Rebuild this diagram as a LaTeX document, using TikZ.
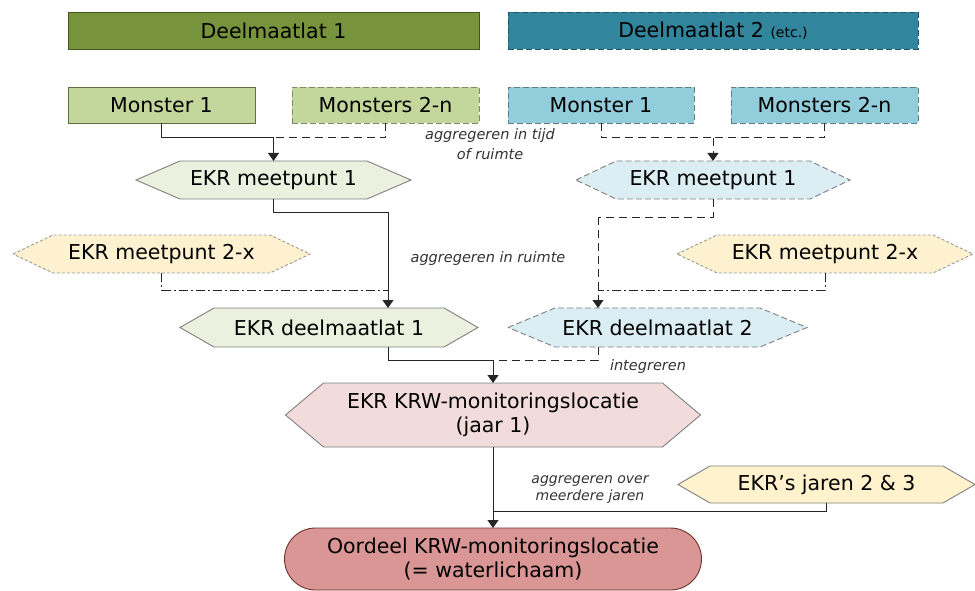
\documentclass[tikz,border=0pt]{standalone}
\usepackage{fontspec}
\setmainfont{DejaVu Sans}
\usetikzlibrary{arrows.meta,backgrounds}
\definecolor{dmone}{HTML}{77933C}
\definecolor{dmoneb}{HTML}{46561F}
\definecolor{dmtwo}{HTML}{31859C}
\definecolor{dmtwob}{HTML}{1F5664}
\definecolor{mgreen}{HTML}{C3D69B}
\definecolor{mgreenb}{HTML}{5E6E3C}
\definecolor{mblue}{HTML}{92CDDC}
\definecolor{mblueb}{HTML}{5F7F88}
\definecolor{hgreen}{HTML}{EBF1DE}
\definecolor{hblue}{HTML}{DBEEF4}
\definecolor{hyellow}{HTML}{FDF1CF}
\definecolor{hyellowb}{HTML}{FFF2CC}
\definecolor{hpink}{HTML}{F2DCDB}
\definecolor{oord}{HTML}{D99694}
\definecolor{oordb}{HTML}{6B3230}
\definecolor{hgray}{HTML}{7F7F7F}
\newcommand\myhex[3]{\path[#3] (#1.west) -- ([xshift=#2]#1.north west) -- ([xshift=-#2]#1.north east) -- (#1.east) -- ([xshift=-#2]#1.south east) -- ([xshift=#2]#1.south west) -- cycle;}
\begin{document}
\begin{tikzpicture}[x=1pt,y=-1pt,
  every node/.style={font=\fontsize{20.5}{24}\selectfont},
  box/.style={rectangle, inner sep=0pt, outer sep=0pt, align=center, text=black},
  bline/.style={line width=0.9pt},
  line/.style={draw=black!85, line width=1pt},
  dl/.style={line, dash pattern=on 8pt off 5pt},
  ddot/.style={line, dash pattern=on 9pt off 3pt on 2pt off 3pt},
  arr/.style={-{Triangle[width=11pt,length=8pt]}},
  lab/.style={font=\fontsize{14.5}{20}\selectfont\itshape, text=black!80, align=center, inner sep=0pt},
  hexsolid/.style={draw=hgray, line width=0.9pt},
  hexdash/.style={draw=hgray, line width=0.9pt, dash pattern=on 6pt off 3pt},
  hexdot/.style={draw=black!40, line width=0.9pt, dash pattern=on 3pt off 2pt}
]
\useasboundingbox (0,0) rectangle (975,591);

% top bars
\node[box, draw=dmoneb, bline, fill=dmone, minimum width=411pt, minimum height=37pt] (dm1) at (273.5,30.5) {Deelmaatlat 1};
\node[box, draw=dmtwob, bline, dash pattern=on 6pt off 3pt, fill=dmtwo, minimum width=410pt, minimum height=37pt] (dm2) at (713,30.5) {Deelmaatlat 2 {\fontsize{14}{16}\selectfont (etc.)}};

% monsters
\node[box, draw=mgreenb, bline, fill=mgreen, minimum width=187pt, minimum height=36pt] (m1L) at (161.5,105) {Monster 1};
\node[box, draw=mgreenb!80, bline, dash pattern=on 6pt off 3pt, fill=mgreen, minimum width=187pt, minimum height=36pt] (mnL) at (385.5,105) {Monsters 2-n};
\node[box, draw=mblueb, bline, dash pattern=on 6pt off 3pt, fill=mblue, minimum width=186pt, minimum height=36pt] (m1R) at (601,105) {Monster 1};
\node[box, draw=mblueb, bline, dash pattern=on 6pt off 3pt, fill=mblue, minimum width=187pt, minimum height=36pt] (mnR) at (824.5,105) {Monsters 2-n};

% hexagon nodes (text), shapes drawn on background layer
\node[box, minimum width=275pt, minimum height=38pt] (emL) at (273.5,180) {EKR meetpunt 1};
\node[box, minimum width=274pt, minimum height=38pt] (emR) at (713,180) {EKR meetpunt 1};
\node[box, minimum width=297pt, minimum height=38pt] (e2L) at (161.5,254) {EKR meetpunt 2-x};
\node[box, minimum width=296pt, minimum height=38pt] (e2R) at (825,254) {EKR meetpunt 2-x};
\node[box, minimum width=298pt, minimum height=39pt] (ddL) at (329,327.5) {EKR deelmaatlat 1};
\node[box, minimum width=299pt, minimum height=39pt] (ddR) at (657.5,327.5) {EKR deelmaatlat 2};
\node[box, minimum width=415pt, minimum height=64pt] (krw) at (493,415) {EKR KRW-monitoringslocatie\\(jaar 1)};
\node[box, minimum width=297pt, minimum height=37pt] (jar) at (826.5,484.5) {EKR’s jaren 2 \& 3};
\node[box, draw=oordb, bline, fill=oord, rounded corners=31pt, minimum width=417pt, minimum height=62pt] (oor) at (493,559) {Oordeel KRW-monitoringslocatie\\(= waterlichaam)};

% labels
\node[lab] (l1) at (490,144) {aggregeren in tijd\\of ruimte};
\node[lab] (l2) at (488,258) {aggregeren in ruimte};
\node[lab] (l3) at (648,366) {integreren};
\node[lab, font=\fontsize{14}{17}\selectfont\itshape] (l4) at (590,490) {aggregeren over\\meerdere jaren};

% junctions
\coordinate (j1) at (273.5,138);
\coordinate (j2) at (713,138);
\coordinate (kL) at (388,212);
\coordinate (mL) at (388,290);
\coordinate (kR) at (598,217);
\coordinate (mR) at (598,290);
\coordinate (j3) at (493,360);
\coordinate (j4) at (493,511);

% connectors
\draw[line] (m1L.south) |- (j1);
\draw[dl] (mnL.south) |- (j1);
\draw[line, arr] (j1) -- (emL.north);
\draw[dl] (m1R.south) |- (j2);
\draw[dl] (mnR.south) |- (j2);
\draw[dl, arr] (j2) -- (emR.north);

\draw[line] (emL.south) |- (kL);
\draw[line, arr] (kL) -- (kL |- ddL.north);
\draw[ddot] (e2L.south) |- (mL);
\draw[dl] (emR.south) |- (kR);
\draw[dl, arr] (kR) -- (kR |- ddR.north);
\draw[ddot] (e2R.south) |- (mR);

\draw[line] (kL |- ddL.south) |- (j3);
\draw[dl] (kR |- ddR.south) |- (j3);
\draw[line, arr] (j3) -- (krw.north);

\draw[line, arr] (krw.south) -- (oor.north);
\draw[line] (jar.south) |- (j4);

\begin{scope}[on background layer]
\myhex{emL}{44pt}{hexsolid, fill=hgreen}
\myhex{emR}{40pt}{hexdash, fill=hblue}
\myhex{e2L}{40pt}{hexdot, fill=hyellow}
\myhex{e2R}{40pt}{hexdot, fill=hyellow}
\myhex{ddL}{34pt}{hexsolid, fill=hgreen}
\myhex{ddR}{47pt}{hexdash, fill=hblue}
\myhex{krw}{38pt}{hexsolid, fill=hpink}
\myhex{jar}{32pt}{hexsolid, fill=hyellowb}
\end{scope}
\end{tikzpicture}
\end{document}
